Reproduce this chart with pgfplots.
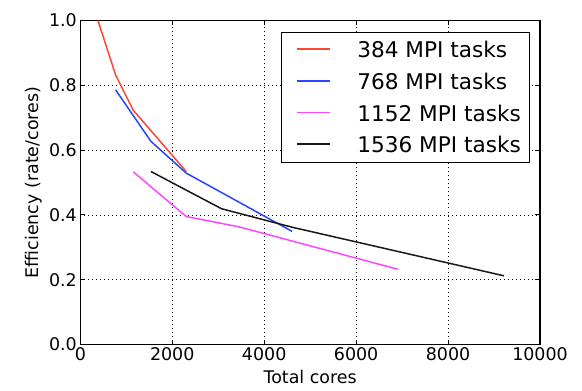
\documentclass[border=0pt]{standalone}
\usepackage{fontspec}
\setmainfont{DejaVu Sans}
\usepackage{pgfplots}
\pgfplotsset{compat=1.18}
\definecolor{cred}{RGB}{255,70,50}
\definecolor{cblue}{RGB}{40,70,255}
\definecolor{cmag}{RGB}{255,70,255}
\definecolor{cblk}{RGB}{25,25,25}
\begin{document}
\begin{tikzpicture}
\begin{axis}[name=ax, scale only axis, width=459.7bp, height=324bp,
  xmin=0, xmax=10000, ymin=0, ymax=1,
  xtick={0,2000,4000,6000,8000,10000},
  ytick={0,0.2,0.4,0.6,0.8,1.0},
  yticklabel style={/pgf/number format/fixed, /pgf/number format/fixed zerofill, /pgf/number format/precision=1},
  scaled x ticks=false,
  xticklabel style={/pgf/number format/set thousands separator={}},
  /pgf/number format/assume math mode=true,
  tick label style={font=\fontsize{17.5}{20}\selectfont},
  label style={font=\fontsize{17.5}{20}\selectfont},
  xlabel={Total cores}, ylabel={Efficiency (rate/cores)},
  xlabel style={yshift=-2bp},
  grid=major,
  major grid style={line width=0.7bp, black, dash pattern=on 1bp off 3bp},
  tick align=inside, major tick length=5bp,
  tick style={black, line width=0.8bp},
  axis line style={line width=1.2bp, black},
  legend cell align=left,
  legend style={at={(1,1)}, anchor=north east, xshift=-10.7bp, yshift=-11.2bp,
    draw=black, line width=0.8bp, font=\fontsize{21.7}{26}\selectfont,
    inner xsep=8bp, inner ysep=9.8bp, row sep=15.6bp,
    nodes={inner sep=0pt, text height=16bp, text depth=0pt}},
  legend image code/.code={\path (-6.7bp,0.6bp) (59.3bp,0.6bp); \fill[#1, draw=none] (0bp,-0.2bp) rectangle (33bp,1.4bp);},
]
\addplot[cred, line width=1.5bp] coordinates {(384,1.0) (768,0.832) (1152,0.723) (2304,0.534)};
\addlegendentry{384 MPI tasks}
\addplot[cblue, line width=1.5bp] coordinates {(768,0.786) (1536,0.627) (2304,0.529) (4608,0.349)};
\addlegendentry{768 MPI tasks}
\addplot[cmag, line width=1.5bp] coordinates {(1152,0.533) (2304,0.395) (3456,0.363) (6912,0.232)};
\addlegendentry{1152 MPI tasks}
\addplot[cblk, line width=1.5bp] coordinates {(1536,0.534) (3072,0.419) (4608,0.362) (9216,0.212)};
\addlegendentry{1536 MPI tasks}
\end{axis}
\path (ax.south west) ++(-80.3bp,-46.5bp) rectangle ++(582bp,391bp);
\end{tikzpicture}
\end{document}
